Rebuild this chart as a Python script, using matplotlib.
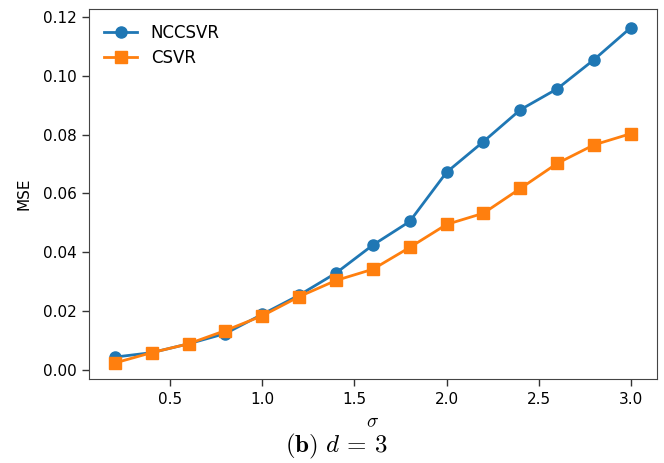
import matplotlib
matplotlib.use("Agg")
import matplotlib.pyplot as plt

sigma = [0.2, 0.4, 0.6, 0.8, 1.0, 1.2, 1.4, 1.6, 1.8, 2.0, 2.2, 2.4, 2.6, 2.8, 3.0]
mse_nccsvr = [0.0045, 0.0060, 0.0090, 0.0125, 0.0190, 0.0255, 0.0330, 0.0425, 0.0505,
              0.0672, 0.0776, 0.0884, 0.0955, 0.1054, 0.1163]
mse_csvr = [0.0025, 0.0060, 0.0090, 0.0135, 0.0185, 0.0250, 0.0305, 0.0343, 0.0417,
            0.0495, 0.0533, 0.0617, 0.0702, 0.0765, 0.0803]

plt.rcParams["mathtext.fontset"] = "cm"

fig = plt.figure(figsize=(6.64, 4.63), dpi=100)
ax = fig.add_axes([0.134, 0.181, 0.855, 0.799])

ax.plot(sigma, mse_nccsvr, marker="o", markersize=8, linewidth=2, color="#1f77b4", label="NCCSVR")
ax.plot(sigma, mse_csvr, marker="s", markersize=8, linewidth=2, color="#ff7f0e", label="CSVR")

ax.set_xlim(0.06, 3.14)
ax.set_ylim(-0.003, 0.1225)
ax.set_xticks([0.5, 1.0, 1.5, 2.0, 2.5, 3.0])
ax.set_yticks([0.00, 0.02, 0.04, 0.06, 0.08, 0.10, 0.12])
ax.set_yticklabels([f"{v:.2f}" for v in ax.get_yticks()])
ax.tick_params(labelsize=11, length=5, width=1, pad=4, color="#333333")
ax.set_xlabel(r"$\sigma$", fontsize=14, labelpad=4)
ax.set_ylabel("MSE", fontsize=11, labelpad=8)
for s in ax.spines.values():
    s.set_color("#444444")

ax.legend(loc="upper left", frameon=False, fontsize=12, labelspacing=0.4)

fig.text(0.506, 0.036, r"$\mathbf{(b)}\ d\,=\,3$", ha="center", va="center", fontsize=18)

fig.savefig("out.png", dpi=100)
